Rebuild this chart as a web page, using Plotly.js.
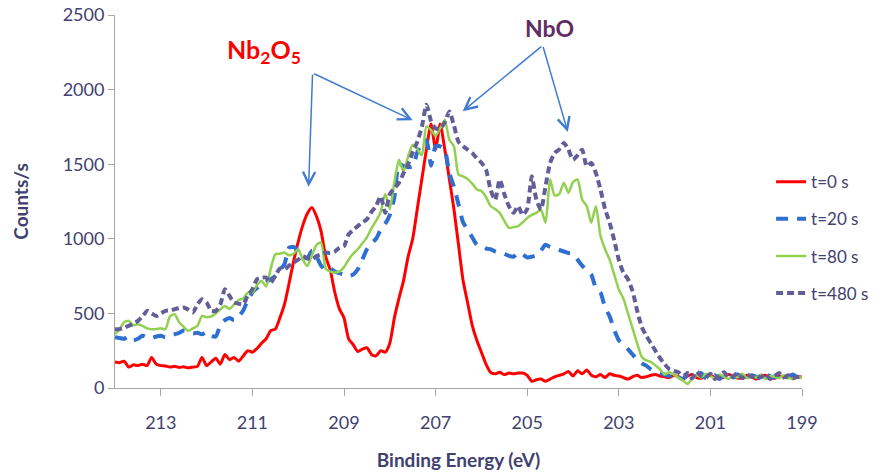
<!DOCTYPE html>
<html>
<head>
<meta charset="utf-8">
<script src="https://cdn.plot.ly/plotly-3.0.1.min.js"></script>
<style>html,body{margin:0;padding:0;background:#fff;}#chart{width:883px;height:473px;}</style>
</head>
<body>
<div id="chart"></div>
<script>
// Binding energy (eV)
const energies = [
214.0,213.9,213.8,213.7,213.6,213.5,213.4,213.3,213.2,213.1,
213.0,212.9,212.8,212.7,212.6,212.5,212.4,212.3,212.2,212.1,
212.0,211.9,211.8,211.7,211.6,211.5,211.4,211.3,211.2,211.1,
211.0,210.9,210.8,210.7,210.6,210.5,210.4,210.3,210.2,210.1,
210.0,209.9,209.8,209.7,209.6,209.5,209.4,209.3,209.2,209.1,
209.0,208.9,208.8,208.7,208.6,208.5,208.4,208.3,208.2,208.1,
208.0,207.9,207.8,207.7,207.6,207.5,207.4,207.3,207.2,207.1,
207.0,206.9,206.8,206.7,206.6,206.5,206.4,206.3,206.2,206.1,
206.0,205.9,205.8,205.7,205.6,205.5,205.4,205.3,205.2,205.1,
205.0,204.9,204.8,204.7,204.6,204.5,204.4,204.3,204.2,204.1,
204.0,203.9,203.8,203.7,203.6,203.5,203.4,203.3,203.2,203.1,
203.0,202.9,202.8,202.7,202.6,202.5,202.4,202.3,202.2,202.1,
202.0,201.9,201.8,201.7,201.6,201.5,201.4,201.3,201.2,201.1,
201.0,200.9,200.8,200.7,200.6,200.5,200.4,200.3,200.2,200.1,
200.0,199.9,199.8,199.7,199.6,199.5,199.4,199.3,199.2,199.1,
199.0];

// Counts/s, t = 0 s
const t0 = [
175,170,180,140,155,150,160,150,205,160,
150,148,140,145,138,142,135,140,145,205,
150,175,200,160,225,190,205,180,215,250,
240,265,300,330,385,395,470,560,700,850,
980,1090,1170,1210,1150,1050,880,790,640,530,
470,330,290,245,260,270,225,215,250,240,
300,470,600,720,880,1000,1200,1400,1600,1770,
1600,1770,1600,1400,1200,960,720,570,420,320,
240,160,105,95,105,90,100,95,100,100,
85,45,55,60,45,60,75,85,95,110,
80,115,95,120,85,75,90,70,95,85,
80,70,60,75,85,70,75,85,90,80,
75,70,85,75,60,80,90,70,65,80,
85,70,60,75,90,80,65,70,85,75,
60,75,85,70,65,80,75,70,80,70,
75];

// Counts/s, t = 20 s
const t20 = [
340,335,330,345,320,330,350,340,335,345,
350,340,350,360,370,385,380,365,370,360,
375,350,345,420,455,470,455,480,520,590,
640,670,690,710,730,750,790,830,940,945,
920,880,870,920,880,820,790,800,780,770,
760,750,760,795,860,930,970,1000,1060,1100,
1160,1280,1500,1490,1480,1486,1580,1640,1660,1490,
1620,1620,1597,1440,1350,1230,1110,1060,1010,960,
950,935,930,915,905,900,885,880,905,895,
875,880,890,920,960,945,935,925,915,905,
900,860,820,790,760,670,640,540,480,390,
320,290,260,225,190,165,150,125,110,100,
90,80,95,75,60,85,70,90,100,65,
70,85,60,95,80,70,90,75,60,85,
75,65,90,80,70,85,60,75,90,70,
70];

// Counts/s, t = 80 s
const t80 = [
361,394,440,450,420,428,417,400,394,395,
400,394,480,495,440,410,383,400,417,483,
475,480,500,528,550,530,560,590,600,640,
640,690,717,680,800,896,900,908,890,900,
930,860,817,890,960,975,800,780,774,780,
810,860,900,930,970,1010,1070,1120,1180,1300,
1200,1380,1530,1450,1553,1630,1600,1560,1753,1730,
1690,1740,1798,1664,1620,1430,1419,1400,1370,1330,
1320,1280,1220,1200,1174,1120,1074,1078,1085,1110,
1140,1160,1174,1196,1108,1397,1290,1300,1375,1308,
1380,1397,1263,1219,1108,1219,1020,930,860,760,
660,600,500,400,300,210,185,175,150,125,
90,105,90,70,50,27,60,85,70,95,
80,65,90,75,60,85,70,95,65,80,
70,90,60,80,75,65,85,70,60,75,
70];

// Counts/s, t = 480 s
const t480 = [
394,394,405,417,430,450,480,517,500,483,
500,517,520,528,535,539,525,506,560,595,
573,517,517,560,662,617,573,565,561,620,
662,729,740,740,706,751,800,795,820,840,
860,884,870,862,884,895,907,905,915,940,
951,1030,1060,1085,1110,1130,1180,1219,1285,1174,
1300,1340,1375,1440,1500,1580,1650,1750,1898,1790,
1740,1740,1780,1853,1760,1650,1620,1597,1575,1540,
1510,1464,1330,1260,1397,1300,1219,1174,1219,1160,
1200,1419,1263,1196,1352,1508,1575,1600,1642,1597,
1530,1560,1597,1486,1508,1440,1330,1200,1108,990,
860,773,729,650,520,410,350,300,250,200,
160,127,115,105,75,100,65,110,80,70,
95,60,85,105,70,80,100,65,90,75,
85,70,95,60,80,100,70,85,65,75,
70];

const seriesNames = ['t=0 s', 't=20 s', 't=80 s', 't=480 s'];
const xTickVals = [213, 211, 209, 207, 205, 203, 201, 199];
const yTickVals = [0, 500, 1000, 1500, 2000, 2500];

const axisText = '#3f416f';
const fontFam = 'Lato, "Open Sans", sans-serif';

function trace(y, name, color, width, dash, grp) {
  return {
    x: energies, y: y, name: name, type: 'scatter', mode: 'lines',
    line: {color: color, width: width, dash: dash, shape: 'spline', smoothing: 0.6},
    legendgroup: grp
  };
}

const data = [
  trace(t0, seriesNames[0], '#ff0000', 3, 'solid', 'a'),
  trace(t20, seriesNames[1], '#2e6fd2', 4, '12px,9px', 'b'),
  trace(t80, seriesNames[2], '#92d050', 2.5, 'solid', 'c'),
  trace(t480, seriesNames[3], '#625f98', 4, '7px,4px', 'd')
];

const arrowColor = '#3f7bd1';
function arrow(hx, hy, tx, ty) {
  return {
    x: hx, y: hy, ax: tx, ay: ty, xref: 'x', yref: 'y', axref: 'x', ayref: 'y',
    text: '', showarrow: true, arrowhead: 5, arrowsize: 1.6, arrowwidth: 1.5,
    arrowcolor: arrowColor, standoff: 0, startstandoff: 0
  };
}

const layout = {
  width: 883, height: 473,
  margin: {l: 115, r: 81, t: 15, b: 85, autoexpand: false},
  paper_bgcolor: '#ffffff', plot_bgcolor: '#ffffff',
  font: {family: fontFam, color: axisText},
  showlegend: true,
  legend: {
    x: 0.955, xanchor: 'left', y: 0.6, yanchor: 'top',
    traceorder: 'grouped', tracegroupgap: 12,
    font: {size: 17, color: axisText, family: fontFam},
    bgcolor: 'rgba(0,0,0,0)'
  },
  xaxis: {
    range: [214, 199], autorange: false,
    tickmode: 'array', tickvals: xTickVals, ticktext: xTickVals.map(String),
    ticks: 'outside', ticklen: 7, tickcolor: '#a6a6a6', tickwidth: 1,
    ticklabelstandoff: 11,
    showline: true, linecolor: '#a6a6a6', linewidth: 1,
    showgrid: false, zeroline: false,
    tickfont: {size: 18, color: axisText, family: fontFam},
    title: {text: '<b>Binding Energy (eV)</b>', font: {size: 19, color: axisText, family: fontFam}, standoff: 22}
  },
  yaxis: {
    range: [0, 2500], autorange: false,
    tickmode: 'array', tickvals: yTickVals,
    ticks: 'outside', ticklen: 6, tickcolor: '#a6a6a6', tickwidth: 1,
    showline: true, linecolor: '#a6a6a6', linewidth: 1,
    showgrid: false, zeroline: false,
    tickfont: {size: 18, color: axisText, family: fontFam},
    title: {text: '<b>Counts/s</b>', font: {size: 19, color: axisText, family: fontFam}, standoff: 28}
  },
  annotations: [
    {x: 210.75, y: 2262, xref: 'x', yref: 'y', showarrow: false,
     text: '<b>Nb<sub>2</sub>O<sub>5</sub></b>', font: {size: 25, color: '#ff0000', family: fontFam}},
    {x: 204.51, y: 2416, xref: 'x', yref: 'y', showarrow: false,
     text: '<b>NbO</b>', font: {size: 23, color: '#5f2d62', family: fontFam}},
    arrow(209.773, 1349, 209.686, 2111),
    arrow(207.501, 1795, 209.686, 2111),
    arrow(206.408, 1855, 204.661, 2296),
    arrow(204.114, 1716, 204.661, 2296)
  ]
};

Plotly.newPlot('chart', data, layout, {staticPlot: true, displayModeBar: false});
</script>
</body>
</html>
